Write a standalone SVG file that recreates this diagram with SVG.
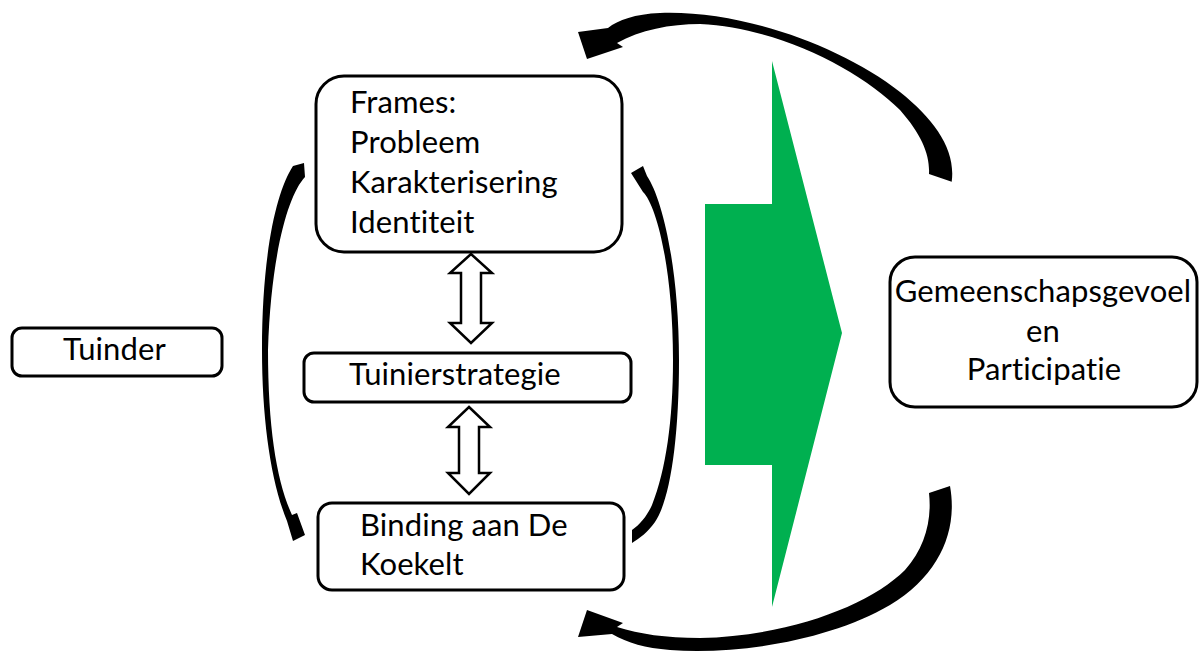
<svg xmlns="http://www.w3.org/2000/svg" width="1200" height="657" viewBox="0 0 1200 657">
<style>
.box{fill:#fff;stroke:#000;stroke-width:3}
.t{font-family:Lato,"Liberation Sans",sans-serif;font-size:31px;fill:#000;font-variant-ligatures:none;font-feature-settings:"liga" 0,"clig" 0,"calt" 0,"dlig" 0;letter-spacing:0.1px}
.dbl{fill:#fff;stroke:#000;stroke-width:2.5;stroke-linejoin:miter}
.blk{fill:#000;stroke:none}
</style>
<rect width="1200" height="657" fill="#fff"/>
<g id="green-arrow">
<polygon points="705,204 772,204 772,61 842,333 772,607 772,465 705,465" fill="#00b050"/>
</g>
<g id="connectors">
<path class="blk" d="M951.7,181.7 C956,150 935,120 900,92 C840,45 740,10 660,13 C635,14 618,20 608,28 L578,32 L587,59 L623,47 L617,43 C640,30 670,24 700,24 C780,28 860,70 900,110 C922,135 930,155 929,174 Z"/>
<path class="blk" d="M950,486 C958,530 940,575 890,605 C830,640 740,655 670,650 C645,648 628,643 612,634 L578,637 L587,610 L623,623 L617,627 C640,634 665,638 700,638 C790,636 870,605 905,570 C925,548 932,520 929,493 Z"/>
<path class="blk" d="M304,163 L305,177 C288,195 271,255 268,350 C268,430 277,482 292,515 L297,513 L305,535 L293,541 L287,521 C271,482 262,420 262,350 C262,255 276,192 293,166 Z"/>
<path class="blk" d="M631,173 L643,166 L647,176 C663,200 679,270 679,360 C679,440 670,500 655,522 C648,532 640,538 632,543 L632,530 C641,524 648,514 652,505 C666,470 673,420 673,360 C673,270 657,206 643,192 Z"/>
<polygon class="dbl" points="471,254 492,273 481,273 481,323 492,323 471,343 450,323 461,323 461,273 450,273"/>
<polygon class="dbl" points="469,407 490,427 479,427 479,473 490,473 469,494 448,473 459,473 459,427 448,427"/>
</g>
<g id="frames">
<rect class="box" x="316" y="76" width="306" height="176" rx="28"/>
<text class="t" x="350" y="113">Frames:</text>
<text class="t" x="350" y="153">Probleem</text>
<text class="t" x="350" y="193">Karakterisering</text>
<text class="t" x="350" y="233">Identiteit</text>
</g>
<g id="tuinierstrategie">
<rect class="box" x="304" y="353" width="327" height="49" rx="10"/>
<text class="t" x="349" y="385">Tuinierstrategie</text>
</g>
<g id="binding">
<rect class="box" x="318" y="503" width="306" height="87" rx="14"/>
<text class="t" x="360" y="536">Binding aan De</text>
<text class="t" x="360" y="575">Koekelt</text>
</g>
<g id="tuinder">
<rect class="box" x="12" y="328" width="210" height="48" rx="10"/>
<text class="t" x="63" y="360">Tuinder</text>
</g>
<g id="gemeenschap">
<rect class="box" x="890" y="257" width="307" height="150" rx="25"/>
<text class="t" x="1043" y="302" text-anchor="middle">Gemeenschapsgevoel</text>
<text class="t" x="1043" y="342" text-anchor="middle">en</text>
<text class="t" x="1044" y="380" text-anchor="middle">Participatie</text>
</g>
</svg>
